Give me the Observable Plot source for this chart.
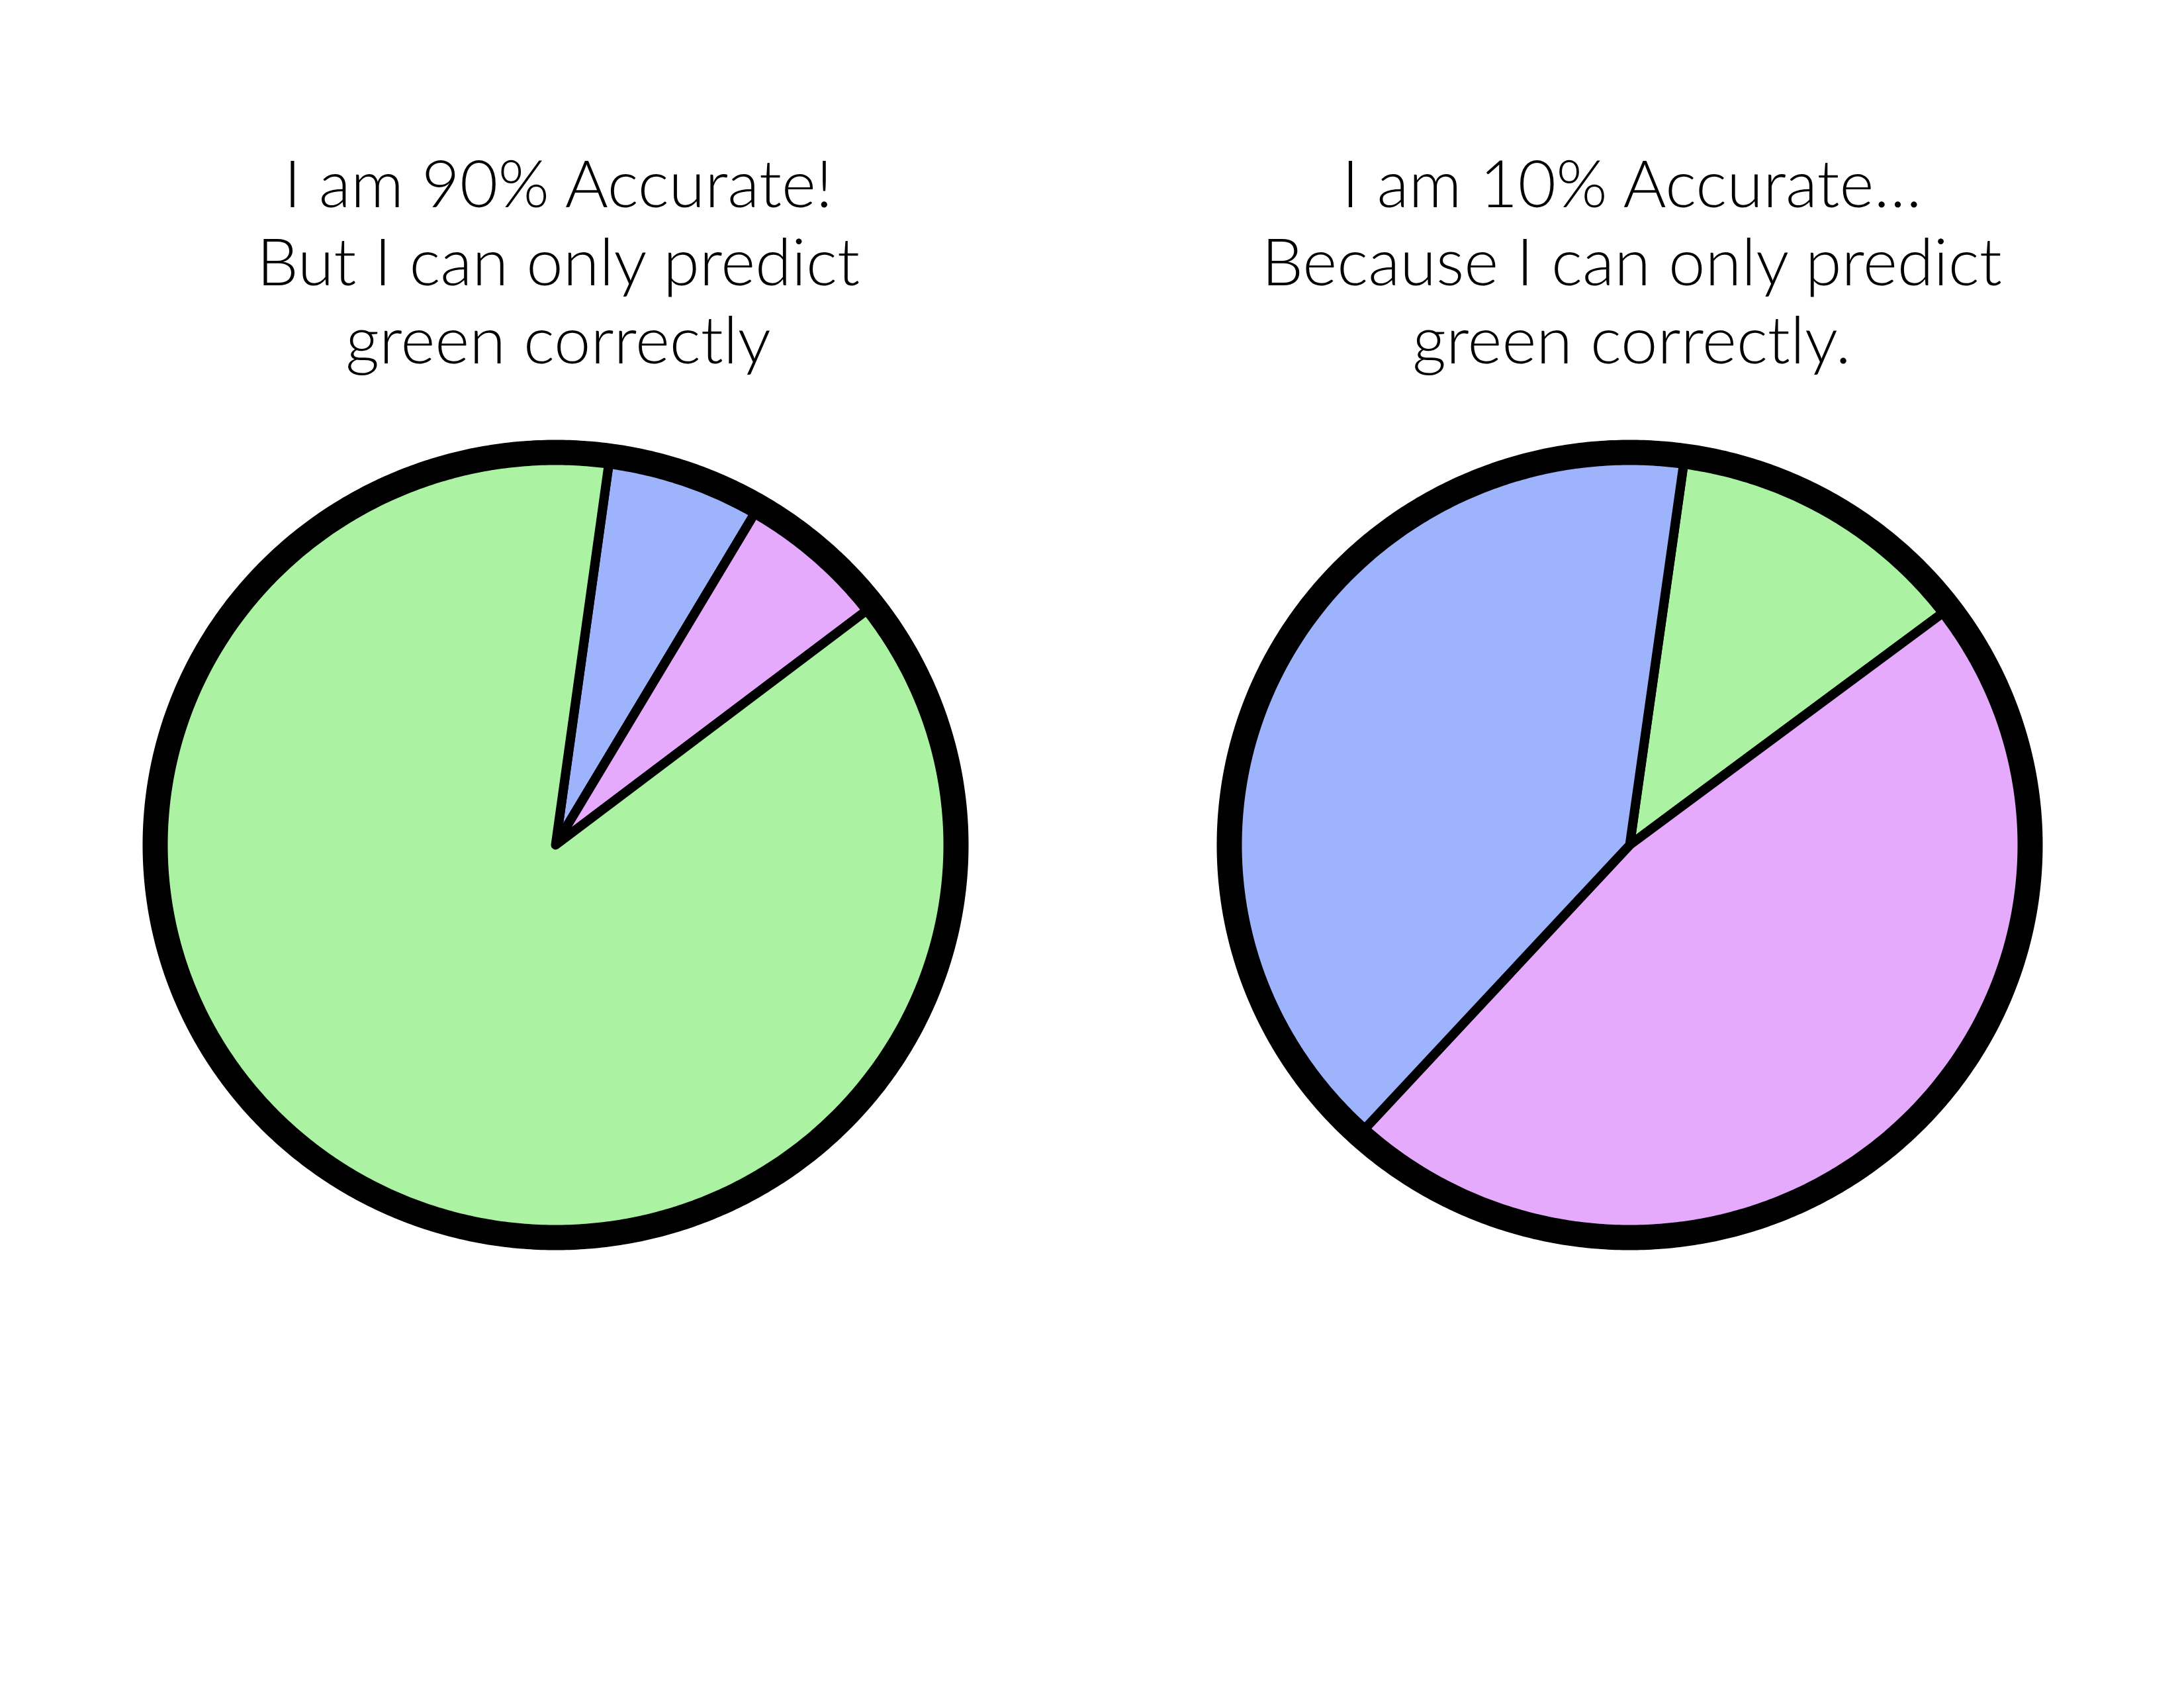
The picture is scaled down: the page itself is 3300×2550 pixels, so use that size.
<!DOCTYPE html>
<html>
<head>
<meta charset="utf-8">
<script src="https://cdn.jsdelivr.net/npm/d3@7"></script>
<script src="https://cdn.jsdelivr.net/npm/@observablehq/plot@0.6"></script>
<style>
  html, body { margin: 0; padding: 0; background: #fff; }
  #chart svg { display: block; }
</style>
</head>
<body>
<div id="chart"></div>
<script>
// ---- data ----
const pieNames = ["left", "right"];
const leftLabels = ["blue", "pink", "green"];
const leftValues = [6.3, 6.1, 87.6];
const leftStartDeg = 7.8;
const rightLabels = ["green", "pink", "blue"];
const rightValues = [12.5, 47.1, 40.4];
const rightStartDeg = 7.9;
const colorNames = ["green", "blue", "pink"];
const colorValues = ["#abf3a3", "#9db3fc", "#e5aafc"];
const leftTitle = ["I am 90% Accurate!", "But I can only predict", "green correctly"];
const rightTitle = ["I am 10% Accurate…", "Because I can only predict", "green correctly."];

// ---- layout ----
const W = 3300, H = 2550;
const centers = {left: [839, 1276], right: [2462, 1276]};
const titleX = {left: 843, right: 2465};
const rx = 605, ry = 593;
const baseline0 = 312, lineStep = 118;
const colorOf = Object.fromEntries(colorNames.map((n, i) => [n, colorValues[i]]));

function slices(pie, labels, values, startDeg) {
  const total = d3.sum(values);
  const [cx, cy] = centers[pie];
  const pts = [];
  let a0 = startDeg;
  labels.forEach((lab, i) => {
    const a1 = a0 + values[i] / total * 360;
    const id = pie + "-" + lab;
    pts.push({id, x: cx, y: cy, color: colorOf[lab]});
    const n = Math.max(2, Math.ceil((a1 - a0) / 0.5));
    for (let k = 0; k <= n; k++) {
      const a = (a0 + (a1 - a0) * k / n) * Math.PI / 180;
      pts.push({id, x: cx + rx * Math.sin(a), y: cy - ry * Math.cos(a), color: colorOf[lab]});
    }
    a0 = a1;
  });
  return pts;
}
function rim(pie) {
  const [cx, cy] = centers[pie];
  return d3.range(0, 360, 0.5).map(d => {
    const a = d * Math.PI / 180;
    return {id: pie, x: cx + rx * Math.sin(a), y: cy - ry * Math.cos(a)};
  });
}

const slicePts = [
  ...slices("left", leftLabels, leftValues, leftStartDeg),
  ...slices("right", rightLabels, rightValues, rightStartDeg)
];
const rimPts = [...rim("left"), ...rim("right")];
const titleRows = [
  ...leftTitle.map((t, i) => ({pie: "left", i, text: t})),
  ...rightTitle.map((t, i) => ({pie: "right", i, text: t}))
];

const plot = Plot.plot({
  width: W, height: H,
  margin: 0,
  x: {domain: [0, W], range: [0, W], axis: null},
  y: {domain: [0, H], range: [0, H], axis: null},
  color: {type: "identity"},
  style: {background: "#fff"},
  marks: [
    Plot.line(slicePts, {
      x: "x", y: "y", z: "id", fill: "color", stroke: "#000",
      strokeWidth: 14, strokeLinejoin: "round", strokeLinecap: "round",
      curve: "linear-closed"
    }),
    Plot.line(rimPts, {
      x: "x", y: "y", z: "id", fill: "none", stroke: "#000",
      strokeWidth: 38, curve: "linear-closed"
    }),
    Plot.text(titleRows, {
      x: d => titleX[d.pie], y: d => baseline0 + d.i * lineStep,
      text: "text", textAnchor: "middle", lineAnchor: "bottom",
      fontSize: 99.5, fontFamily: "Lato", fontWeight: 300, fill: "#000"
    })
  ]
});
document.getElementById("chart").appendChild(plot);
</script>
</body>
</html>
